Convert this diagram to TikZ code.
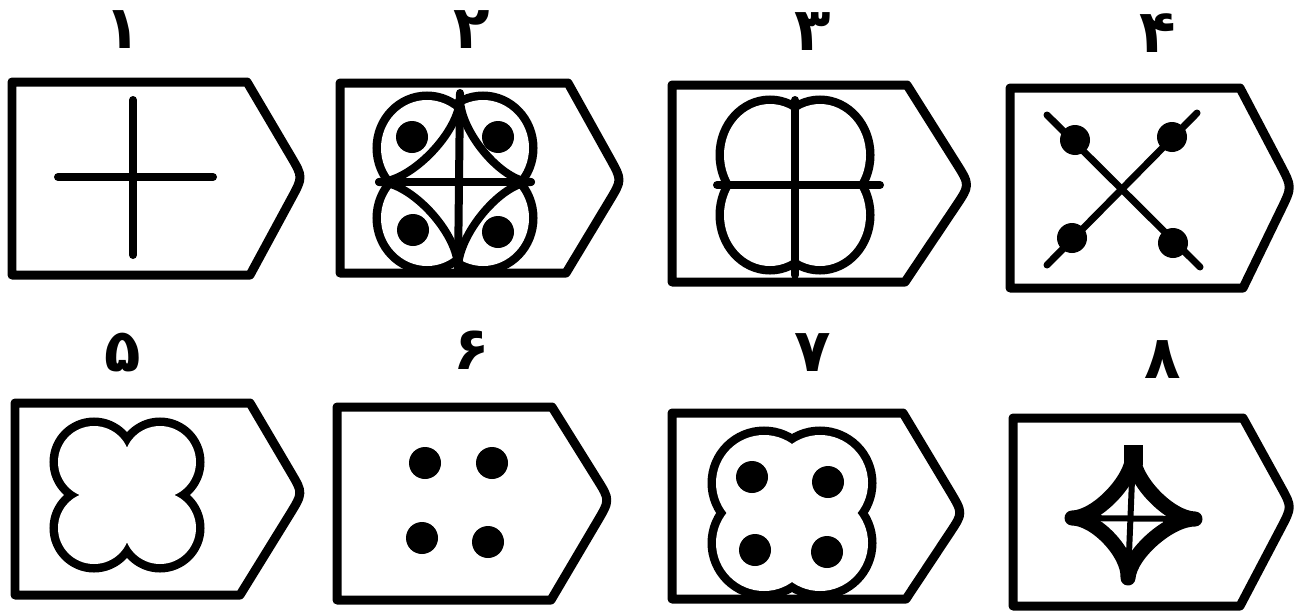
\documentclass[tikz,border=0pt]{standalone}
\usepackage{fontspec}
\newfontfamily\numfont[Script=Arabic]{DejaVu Sans}
\TeXXeTstate=1
\usetikzlibrary{calc}

\begin{document}
\begin{tikzpicture}[
		x=0.02cm, y=-0.02cm,
		board/.style={line width=0.18cm, line join=round},
		figline/.style={line width=0.16cm, line cap=round},
		lobes/.style={preaction={draw, line width=0.34cm}, fill=white},
		starline/.style={line width=0.16cm, line join=round},
		num/.style={inner sep=0pt, font=\numfont\bfseries\fontsize{34pt}{34pt}\selectfont}
		]
		\useasboundingbox (0,0) rectangle (1300,612);
		
		% numbers
		\node[num] (n1) at (123,30) {\beginR ۱\endR};
		\node[num] (n2) at (472,30) {\beginR ۲\endR};
		\node[num] (n3) at (813,32) {\beginR ۳\endR};
		\node[num] (n4) at (1158,33) {\beginR ۴\endR};
		\node[num] (n5) at (123,353) {\beginR ۵\endR};
		\node[num] (n6) at (472,350) {\beginR ۶\endR};
		\node[num] (n7) at (813,353) {\beginR ۷\endR};
		\node[num] (n8) at (1163,360) {\beginR ۸\endR};
		
		% boards
		\coordinate (tip1) at (303,177);
		\coordinate (tip2) at (622,180);
		\coordinate (tip3) at (970,185);
		\coordinate (tip4) at (1292,187);
		\coordinate (tip5) at (303,493);
		\coordinate (tip6) at (610,500);
		\coordinate (tip7) at (963,513);
		\coordinate (tip8) at (1292,507);
		
		\draw[board] (12,82) -- (247,82) -- ($(tip1)!0.22!(247,82)$) .. controls (tip1) .. ($(tip1)!0.22!(250,275)$) -- (250,275) -- (12,275) -- cycle;
		\draw[board] (340,83) -- (568,83) -- ($(tip2)!0.22!(568,83)$) .. controls (tip2) .. ($(tip2)!0.22!(566,273)$) -- (566,273) -- (340,273) -- cycle;
		\draw[board] (672,85) -- (907,85) -- ($(tip3)!0.22!(907,85)$) .. controls (tip3) .. ($(tip3)!0.22!(905,282)$) -- (905,282) -- (672,282) -- cycle;
		\draw[board] (1010,88) -- (1240,88) -- ($(tip4)!0.22!(1240,88)$) .. controls (tip4) .. ($(tip4)!0.22!(1243,288)$) -- (1243,288) -- (1010,288) -- cycle;
		\draw[board] (15,403) -- (250,403) -- ($(tip5)!0.22!(250,403)$) .. controls (tip5) .. ($(tip5)!0.22!(240,595)$) -- (240,595) -- (15,595) -- cycle;
		\draw[board] (337,407) -- (552,407) -- ($(tip6)!0.22!(552,407)$) .. controls (tip6) .. ($(tip6)!0.22!(551,600)$) -- (551,600) -- (337,600) -- cycle;
		\draw[board] (672,413) -- (903,413) -- ($(tip7)!0.22!(903,413)$) .. controls (tip7) .. ($(tip7)!0.22!(906,599)$) -- (906,599) -- (672,599) -- cycle;
		\draw[board] (1013,418) -- (1243,418) -- ($(tip8)!0.22!(1243,418)$) .. controls (tip8) .. ($(tip8)!0.22!(1240,606)$) -- (1240,606) -- (1013,606) -- cycle;
		
		% 1: plain cross
		\draw[figline] (133,100) -- (133,255);
		\draw[figline] (58,177) -- (213,177);
		
		% 2: lobes, star, cross and dots
		\path[lobes] (427,148) ellipse [x radius=46, y radius=48] (483,148) ellipse [x radius=46, y radius=48]
		(427,218) ellipse [x radius=46, y radius=48] (483,218) ellipse [x radius=46, y radius=48];
		\coordinate (c2) at (459,182);
		\coordinate (t2) at (460,98);
		\coordinate (l2) at (379,182);
		\coordinate (b2) at (458,268);
		\coordinate (r2) at (531,182);
		\draw[starline] (t2) .. controls ($(c2)!0.6!(t2)$) and ($(c2)!0.6!(l2)$) .. (l2)
		.. controls ($(c2)!0.6!(l2)$) and ($(c2)!0.6!(b2)$) .. (b2)
		.. controls ($(c2)!0.6!(b2)$) and ($(c2)!0.6!(r2)$) .. (r2)
		.. controls ($(c2)!0.6!(r2)$) and ($(c2)!0.6!(t2)$) .. (t2) -- cycle;
		\draw[figline] (460,93) -- (458,270);
		\draw[figline] (l2) -- (r2);
		\fill (412,137) circle [radius=16] (498,137) circle [radius=16]
		(413,230) circle [radius=16] (498,232) circle [radius=16];
		
		% 3: lobes and cross
		\path[lobes] (770,155) ellipse [x radius=46, y radius=51] (820,155) ellipse [x radius=46, y radius=51]
		(770,215) ellipse [x radius=46, y radius=51] (820,215) ellipse [x radius=46, y radius=51];
		\draw[figline] (795,100) -- (795,275);
		\draw[figline] (717,185) -- (880,185);
		
		% 4: diagonal cross with dots
		\draw[line width=0.14cm, line cap=round] (1047,115) -- (1200,267);
		\draw[line width=0.14cm, line cap=round] (1197,113) -- (1047,265);
		\fill (1075,140) circle [radius=15] (1172,137) circle [radius=15]
		(1072,238) circle [radius=15] (1173,243) circle [radius=15];
		
		% 5: lobes only
		\path[lobes] (94,462) circle [radius=36] (160,462) circle [radius=36]
		(94,528) circle [radius=36] (160,528) circle [radius=36];
		\fill[white] (127,495) circle [radius=22];
		
		% 6: dots only
		\fill (425,463) circle [radius=16] (492,463) circle [radius=16]
		(422,538) circle [radius=16] (488,542) circle [radius=16];
		
		% 7: lobes and dots
		\path[lobes] (764,483) circle [radius=48] (820,483) circle [radius=48]
		(764,543) circle [radius=48] (820,543) circle [radius=48];
		\fill (752,477) circle [radius=16] (828,482) circle [radius=16]
		(755,550) circle [radius=16] (827,552) circle [radius=16];
		
		% 8: star and cross
		\coordinate (c8) at (1132,518);
		\coordinate (t8) at (1133,455);
		\coordinate (l8) at (1072,518);
		\coordinate (b8) at (1128,578);
		\coordinate (r8) at (1195,519);
		\draw[starline, line width=0.3cm] (t8) .. controls ($(c8)!0.6!(t8)$) and ($(c8)!0.6!(l8)$) .. (l8)
		.. controls ($(c8)!0.6!(l8)$) and ($(c8)!0.6!(b8)$) .. (b8)
		.. controls ($(c8)!0.6!(b8)$) and ($(c8)!0.6!(r8)$) .. (r8)
		.. controls ($(c8)!0.6!(r8)$) and ($(c8)!0.6!(t8)$) .. (t8) -- cycle;
		\draw[line width=0.38cm] (1133,445) -- (1133,465);
		\draw[line width=0.12cm] (t8) -- (b8);
		\draw[line width=0.12cm] (l8) -- (r8);
		
	\end{tikzpicture}
\end{document}
